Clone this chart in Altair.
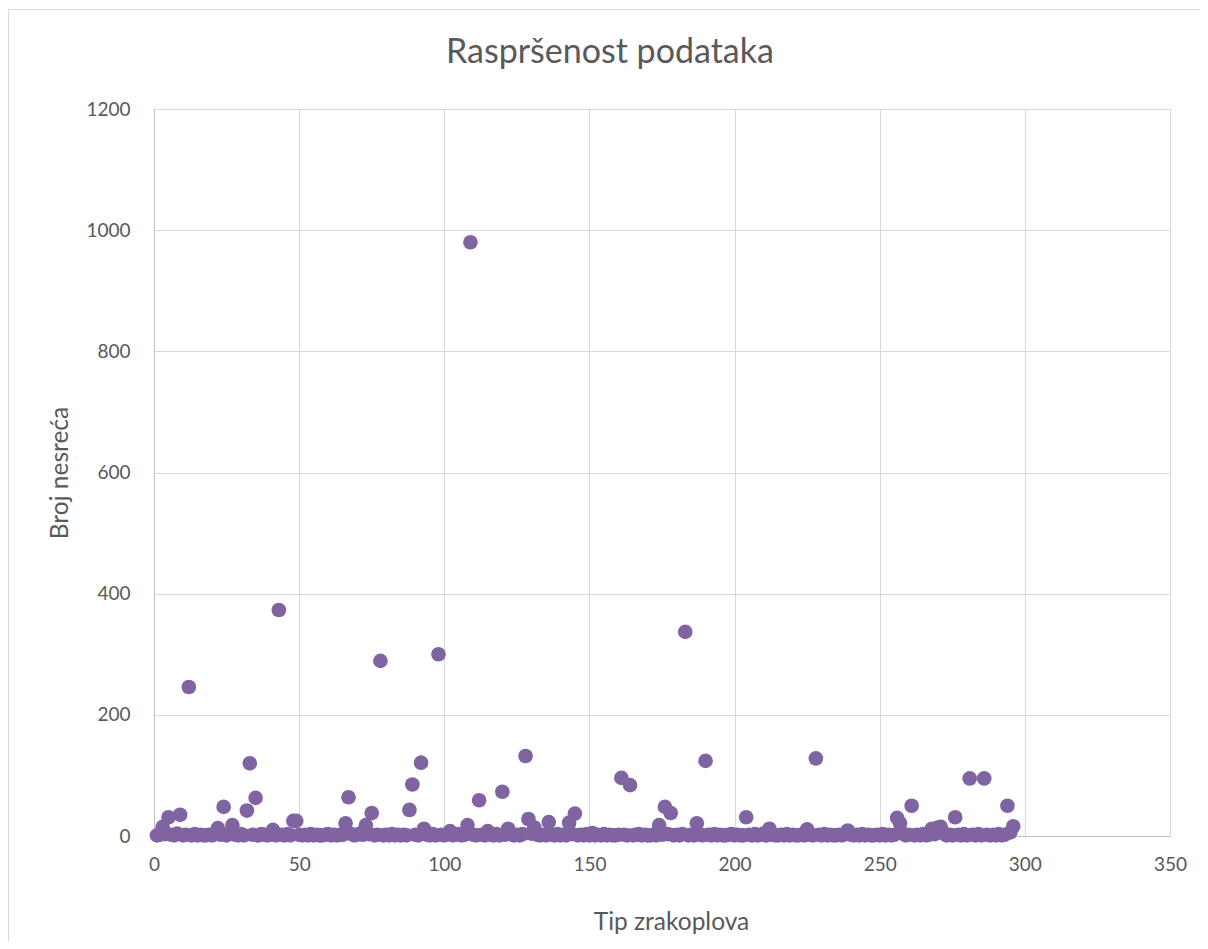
import altair as alt
import pandas as pd

# Aircraft type index (category number) and number of accidents
tip = list(range(1, 297))
broj = [
    1, 2, 15, 3, 31, 2, 1, 4, 35, 1,        # 1-10
    2, 246, 1, 3, 1, 2, 1, 1, 2, 1,         # 11-20
    3, 13, 2, 48, 1, 4, 18, 2, 1, 3,        # 21-30
    1, 42, 120, 2, 63, 1, 3, 2, 1, 2,       # 31-40
    10, 1, 373, 2, 1, 3, 1, 25, 25, 2,      # 41-50
    1, 2, 1, 3, 1, 2, 1, 1, 2, 3,           # 51-60
    1, 2, 1, 2, 2, 21, 64, 3, 1, 2,         # 61-70
    4, 2, 18, 3, 38, 1, 2, 289, 1, 2,       # 71-80
    1, 3, 1, 2, 1, 2, 1, 43, 85, 2,         # 81-90
    1, 121, 12, 2, 1, 3, 1, 300, 2, 1,      # 91-100
    2, 8, 1, 2, 3, 1, 2, 18, 980, 2,        # 101-110
    1, 59, 2, 1, 8, 2, 1, 3, 1, 73,         # 111-120
    2, 12, 3, 1, 2, 1, 3, 132, 28, 4,       # 121-130
    14, 2, 1, 2, 1, 23, 2, 1, 3, 1,         # 131-140
    2, 1, 22, 3, 37, 1, 2, 1, 3, 1,         # 141-150
    5, 1, 2, 1, 3, 1, 2, 1, 1, 2,           # 151-160
    96, 2, 1, 84, 1, 2, 3, 1, 2, 1,         # 161-170
    1, 2, 1, 18, 2, 48, 3, 38, 1, 2,        # 171-180
    1, 3, 337, 1, 2, 1, 21, 2, 1, 124,      # 181-190
    2, 1, 3, 1, 2, 1, 1, 2, 3, 1,           # 191-200
    2, 1, 1, 31, 2, 1, 3, 1, 2, 4,          # 201-210
    1, 12, 2, 1, 1, 2, 1, 3, 1, 2,          # 211-220
    1, 1, 2, 1, 11, 2, 1, 128, 2, 1,        # 221-230
    3, 1, 2, 1, 1, 2, 1, 3, 9, 2,           # 231-240
    1, 2, 1, 3, 1, 2, 1, 1, 2, 1,           # 241-250
    3, 1, 2, 1, 2, 30, 21, 4, 1, 2,         # 251-260
    50, 1, 2, 1, 3, 1, 2, 12, 3, 14,        # 261-270
    15, 5, 1, 2, 1, 31, 2, 1, 3, 1,         # 271-280
    95, 2, 1, 3, 1, 95, 2, 1, 2, 1,         # 281-290
    3, 1, 2, 50, 6, 16,                     # 291-296
]

x_ticks = [0, 50, 100, 150, 200, 250, 300, 350]
y_ticks = [0, 200, 400, 600, 800, 1000, 1200]

df = pd.DataFrame({"tip": tip, "broj": broj})

FONT = "Lato"
GREY = "#595959"

points = alt.Chart(df).mark_circle(size=215, color="#8064A2", opacity=1).encode(
    x=alt.X(
        "tip:Q",
        scale=alt.Scale(domain=[0, 350], nice=False, zero=True),
        axis=alt.Axis(
            values=x_ticks,
            format="d",
            title="Tip zrakoplova",
            labelPadding=19,
            labelFlush=False,
            titleX=517,
            titleY=86,
            titleBaseline="middle",
        ),
    ),
    y=alt.Y(
        "broj:Q",
        scale=alt.Scale(domain=[0, 1200], nice=False),
        axis=alt.Axis(
            values=y_ticks,
            format="d",
            title="Broj nesreća",
            labelPadding=24,
            labelFlush=False,
            titleX=-94,
            titleY=363.5,
            titleBaseline="middle",
        ),
    ),
)

border = alt.Chart(df).mark_rect(
    fill=None, stroke="#D9D9D9", strokeWidth=1, clip=False
).encode(
    x=alt.value(-145.5),
    x2=alt.value(1100),
    y=alt.value(-99.5),
    y2=alt.value(900),
)

chart = (
    alt.layer(border, points)
    .properties(
        width=1016,
        height=727,
        autosize=alt.AutoSizeParams(type="none"),
        padding={"left": 146, "top": 101, "right": 30, "bottom": 105},
        title=alt.TitleParams(
            "Raspršenost podataka",
            fontSize=34,
            font=FONT,
            fontWeight="normal",
            color=GREY,
            anchor="middle",
            frame="group",
            baseline="alphabetic",
            dx=-52,
            offset=-88,
        ),
    )
    .configure_view(stroke=None)
    .configure_axis(
        grid=True,
        gridColor="#D9D9D9",
        gridWidth=1,
        domainColor="#BFBFBF",
        domainWidth=1,
        ticks=False,
        labelFont=FONT,
        labelFontSize=19,
        labelColor=GREY,
        titleFont=FONT,
        titleFontSize=24.5,
        titleFontWeight="normal",
        titleColor=GREY,
    )
)

chart.save("out.html", embed_options={"renderer": "svg", "actions": False})
